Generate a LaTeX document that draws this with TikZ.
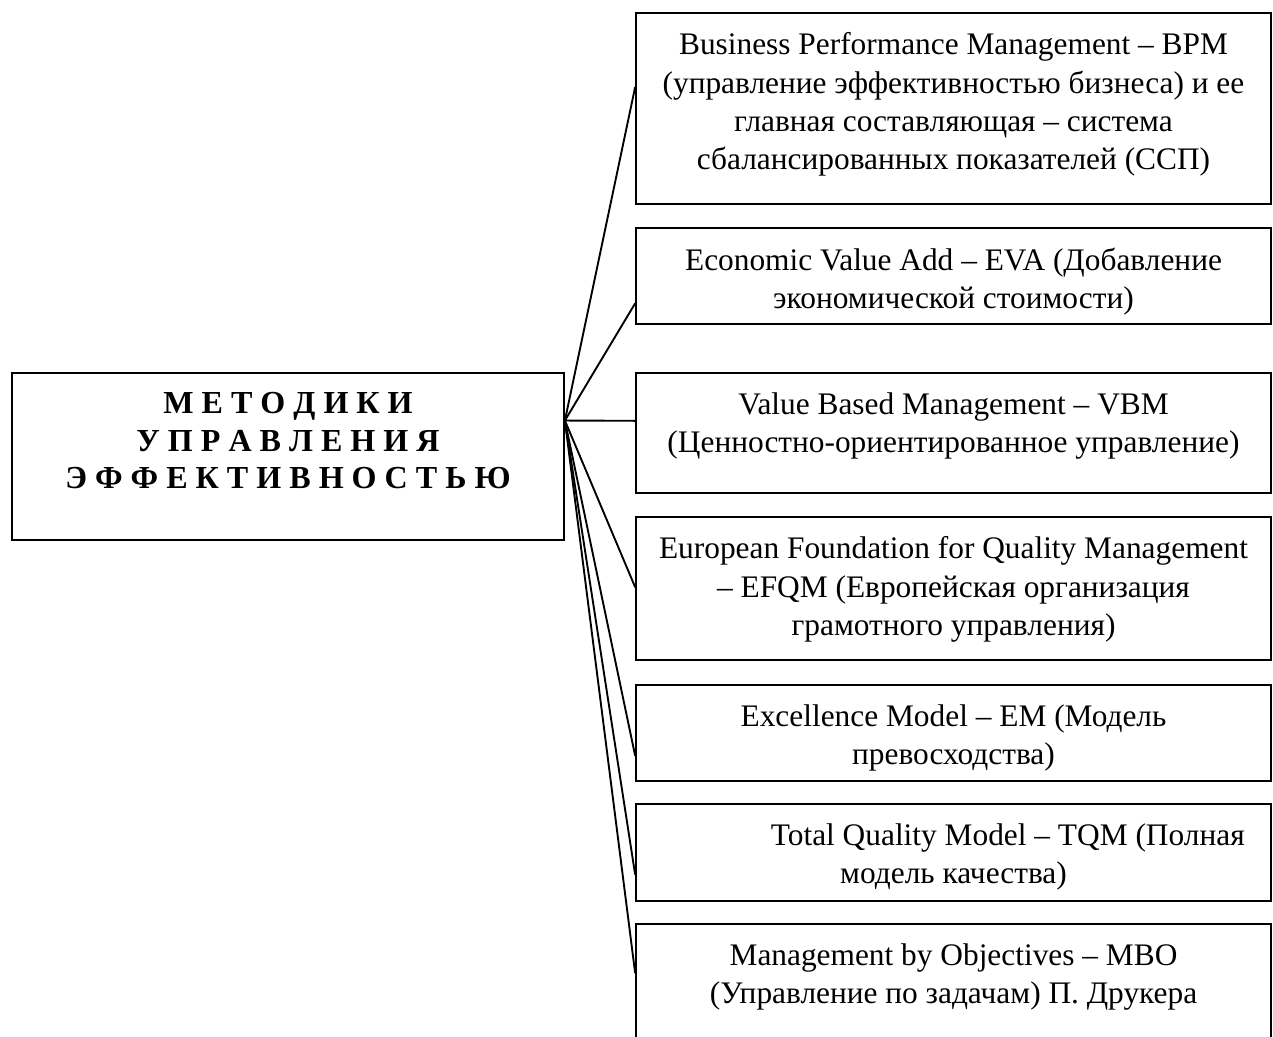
\documentclass[tikz,border=0pt]{standalone}
\usepackage{fontspec}
\setmainfont{Liberation Serif}
\usetikzlibrary{positioning,calc}
\tikzset{method/.style={draw,line width=.8pt,minimum width=269.2pt,inner sep=0pt},caption/.style={align=center,inner sep=0pt,font=\fontsize{13.3}{16.2}\selectfont},link/.style={line width=.8pt},every picture/.style={line cap=round}}
\begin{document}
\begin{tikzpicture}[x=.424pt,y=-.424pt,gap/.style={below=8.6pt of #1.north}]
\useasboundingbox (0,0) rectangle (1273,1036);
\node[method,minimum width=234pt,minimum height=70.8pt] (title) at (288,456.5) {};
\node[caption,font=\fontsize{13.6}{15.9}\selectfont\bfseries,below=8.5pt of title.north] (titletext) {М Е Т О Д И К И\\У П Р А В Л Е Н И Я\\Э Ф Ф Е К Т И В Н О С Т Ь Ю};
\node[method,minimum height=81pt] (bpm) at (953.5,108.5) {};
\node[caption,gap=bpm] (bpmtext) {Business Performance Management – BPM\\(управление эффективностью бизнеса) и ее\\главная составляющая – система\\сбалансированных показателей (ССП)};
\node[method,minimum height=40.7pt] (eva) at (953.5,276) {};
\node[caption,gap=eva] (evatext) {Economic Value Add – EVA (Добавление\\экономической стоимости)};
\node[method,minimum height=50.9pt] (vbm) at (953.5,433) {};
\node[caption,gap=vbm] (vbmtext) {Value Based Management – VBM\\(Ценностно-ориентированное управление)};
\node[method,minimum height=60.6pt] (efqm) at (953.5,588.5) {};
\node[caption,gap=efqm] (efqmtext) {European Foundation for Quality Management\\– EFQM (Европейская организация\\грамотного управления)};
\node[method,minimum height=40.7pt] (em) at (953.5,733) {};
\node[caption,gap=em] (emtext) {Excellence Model – EM (Модель\\превосходства)};
\node[method,minimum height=41.1pt] (tqm) at (953.5,852.5) {};
\node[caption,gap=tqm] (tqmtext) {\hspace*{46pt}Total Quality Model – TQM (Полная\\модель качества)};
\node[method,minimum height=57.7pt] (mbo) at (953.5,992) {};
\node[caption,gap=mbo] (mbotext) {Management by Objectives – MBO\\(Управление по задачам) П. Друкера};
\coordinate (hub) at ($(title.north east)!.287!(title.south east)$);
\draw[link] (hub) -- ($(bpm.north west)!.39!(bpm.south west)$);
\draw[link] (hub) -- ($(eva.north west)!.78!(eva.south west)$);
\draw[link] (hub) -- ($(vbm.north west)!.4!(vbm.south west)$);
\draw[link] (hub) -- ($(efqm.north west)!.49!(efqm.south west)$);
\draw[link] (hub) -- ($(em.north west)!.73!(em.south west)$);
\draw[link] (hub) -- ($(tqm.north west)!.72!(tqm.south west)$);
\draw[link] (hub) -- ($(mbo.north west)!.36!(mbo.south west)$);
\end{tikzpicture}
\end{document}
